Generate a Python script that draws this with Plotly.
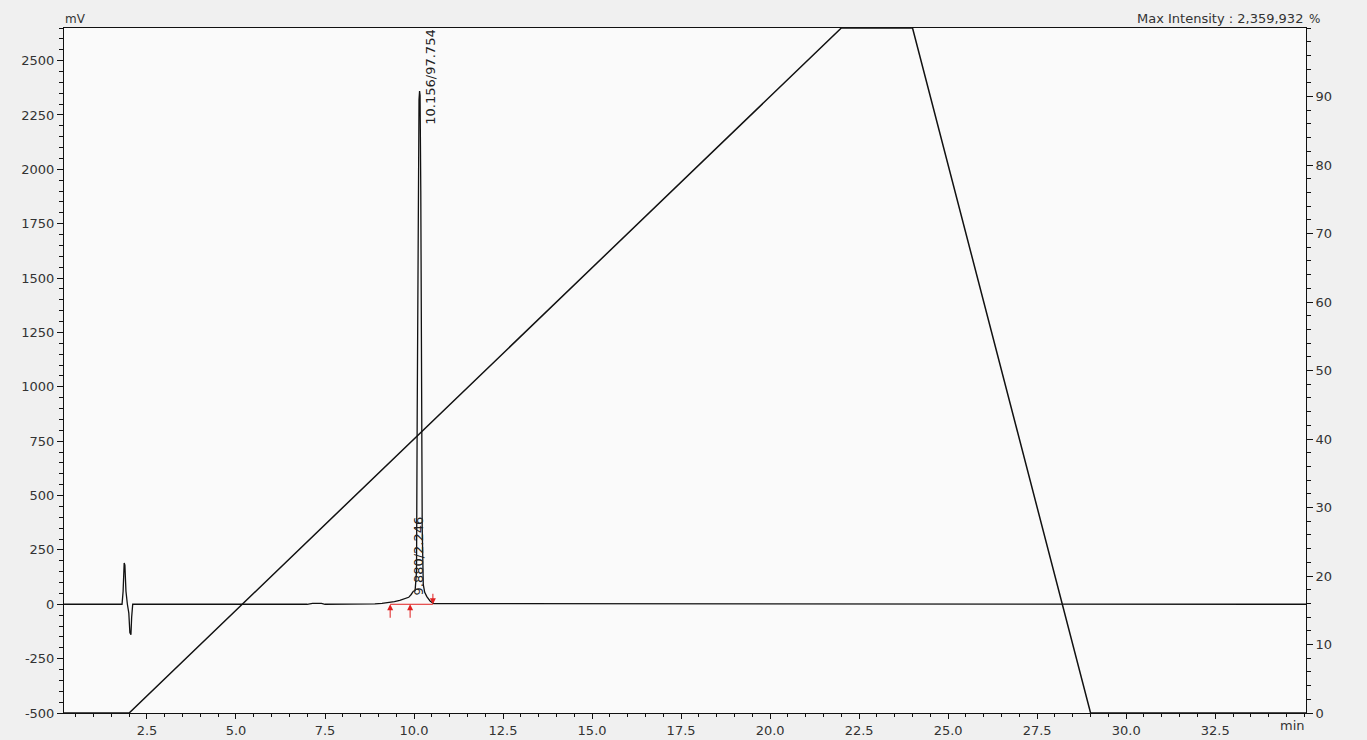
import plotly.graph_objects as go

# Chromatogram (time in min, signal in mV)
time_min = [0.17, 1.80, 1.83, 1.86, 1.88, 1.91, 1.95, 1.99, 2.02, 2.05, 2.07, 2.10, 2.13,
            7.00, 7.15, 7.40, 7.50, 8.60, 8.75, 8.90, 9.10, 9.30, 9.45, 9.60, 9.75, 9.85,
            9.92, 9.98, 10.03, 10.07, 10.09, 10.11, 10.12, 10.14, 10.156, 10.17, 10.19,
            10.21, 10.23, 10.26, 10.30, 10.36, 10.45, 10.55, 35.05]
signal_mv = [0, 0, 60, 190, 180, 60, 0, -40, -130, -140, -60, 0, 0,
             0, 4, 4, 0, 0, 3, 2, 4, 8, 12, 18, 26, 32,
             45, 60, 62, 150, 900, 1700, 2180, 2320, 2359.9, 2340, 1900,
             1000, 350, 90, 55, 35, 15, 3, 0]

# Gradient program (%B)
grad_time = [0.17, 2.0, 22.0, 24.0, 29.0, 35.05]
grad_pct = [0, 0, 100, 100, 0, 0]

# Peaks
peak_times = [9.880, 10.156]
peak_heights = [30, 2359.9]
peak_labels = ["9.880/2.246", "10.156/97.754"]
# Integration markers (start/valley/end)
marker_times = [9.33, 9.89, 10.53]
marker_dirs = ["up", "up", "down"]

x_tick_vals = [2.5, 5.0, 7.5, 10.0, 12.5, 15.0, 17.5, 20.0, 22.5, 25.0, 27.5, 30.0, 32.5]
x_tick_text = ["2.5", "5.0", "7.5", "10.0", "12.5", "15.0", "17.5", "20.0", "22.5", "25.0", "27.5", "30.0", "32.5"]
y_tick_vals = [-500, -250, 0, 250, 500, 750, 1000, 1250, 1500, 1750, 2000, 2250, 2500]
y_tick_text = ["-500", "-250", "0", "250", "500", "750", "1000", "1250", "1500", "1750", "2000", "2250", "2500"]
y2_tick_vals = [0, 10, 20, 30, 40, 50, 60, 70, 80, 90]
y2_tick_text = ["0", "10", "20", "30", "40", "50", "60", "70", "80", "90"]

FONT = "DejaVu Sans, Verdana, sans-serif"
TXT = "#333333"

fig = go.Figure()
fig.add_trace(go.Scatter(x=grad_time, y=grad_pct, mode="lines", yaxis="y2",
                         line=dict(color="#111111", width=1.5), hoverinfo="skip", showlegend=False))
fig.add_trace(go.Scatter(x=time_min, y=signal_mv, mode="lines",
                         line=dict(color="#111111", width=1.3), showlegend=False))

annotations = []
# red baseline between integration markers
fig.add_trace(go.Scatter(x=[marker_times[0], marker_times[-1]], y=[0, 0], mode="lines",
                         line=dict(color="#e02020", width=1), showlegend=False, hoverinfo="skip"))
for t, d in zip(marker_times, marker_dirs):
    if d == "up":
        annotations.append(dict(x=t, y=0, ax=0, ay=15, showarrow=True, arrowhead=2,
                                arrowsize=1.2, arrowwidth=1, arrowcolor="#e02020", text=""))
    else:
        annotations.append(dict(x=t, y=0, ax=0, ay=-12, showarrow=True, arrowhead=2,
                                arrowsize=1.2, arrowwidth=1, arrowcolor="#e02020", text=""))

annotations.append(dict(x=peak_times[1], y=peak_heights[1], text=peak_labels[1], showarrow=False,
                        textangle=-90, xanchor="center", yanchor="middle", xshift=11, yshift=14,
                        font=dict(family=FONT, size=13, color="#222222")))
annotations.append(dict(x=peak_times[0], y=peak_heights[0], text=peak_labels[0], showarrow=False,
                        textangle=-90, xanchor="center", yanchor="middle", xshift=9, yshift=42,
                        font=dict(family=FONT, size=13, color="#222222")))

annotations.append(dict(xref="paper", yref="paper", x=0.0, y=1.0, text="mV", showarrow=False,
                        xanchor="center", yanchor="bottom", xshift=11, yshift=0,
                        font=dict(family=FONT, size=12, color=TXT)))
annotations.append(dict(xref="paper", yref="paper", x=1.0, y=1.0, text="%", showarrow=False,
                        xanchor="left", yanchor="bottom", xshift=1, yshift=0,
                        font=dict(family=FONT, size=12, color=TXT)))
annotations.append(dict(xref="paper", yref="paper", x=1.0, y=1.0, text="Max Intensity : 2,359,932",
                        showarrow=False, xanchor="right", yanchor="bottom", xshift=-1, yshift=0,
                        font=dict(family=FONT, size=13, color=TXT)))
annotations.append(dict(xref="paper", yref="paper", x=1.0, y=0.0, text="min", showarrow=False,
                        xanchor="right", yanchor="top", xshift=1, yshift=-3,
                        font=dict(family=FONT, size=13, color=TXT)))

fig.update_layout(
    width=1367, height=740,
    margin=dict(l=64, r=61, t=28, b=27, autoexpand=False),
    paper_bgcolor="#f0f0f0", plot_bgcolor="#fafafa",
    font=dict(family=FONT, size=13, color=TXT),
    showlegend=False,
    annotations=annotations,
    xaxis=dict(range=[0.17, 35.05], tickvals=x_tick_vals, ticktext=x_tick_text, automargin=False,
               ticks="outside", ticklen=5, tickcolor="#111111", showgrid=False, zeroline=False,
               showline=True, linecolor="#111111", linewidth=1, mirror=True,
               minor=dict(dtick=0.5, tick0=0, ticks="outside", ticklen=3, tickcolor="#111111"),
               tickfont=dict(size=13)),
    yaxis=dict(range=[-500, 2650], tickvals=y_tick_vals, ticktext=y_tick_text, automargin=False,
               ticks="outside", ticklen=6, tickcolor="#111111", showgrid=False, zeroline=False,
               showline=True, linecolor="#111111", linewidth=1,
               minor=dict(dtick=50, tick0=0, ticks="outside", ticklen=4, tickcolor="#111111"),
               tickfont=dict(size=13)),
    yaxis2=dict(range=[0, 100], overlaying="y", side="right", tickvals=y2_tick_vals, automargin=False,
                ticktext=y2_tick_text, ticks="outside", ticklen=6, tickcolor="#111111",
                showgrid=False, zeroline=False, showline=True, linecolor="#111111", linewidth=1,
                minor=dict(dtick=2, tick0=0, ticks="outside", ticklen=4, tickcolor="#111111"),
                tickfont=dict(size=13)),
)

fig.write_html("out.html", config={"displayModeBar": False},
               post_script="document.body.style.margin='0';document.body.style.overflow='hidden';")
